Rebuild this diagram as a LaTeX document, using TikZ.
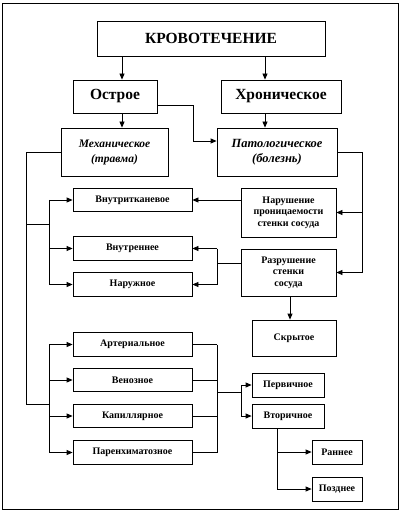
\documentclass[tikz,border=0pt]{standalone}
\usepackage{fontspec}
\setmainfont{Liberation Serif}
\usetikzlibrary{arrows.meta}

\tikzset{
  box/.style={draw, align=center, inner sep=1pt, font=\bfseries\fontsize{10}{11.5}\selectfont},
  sbox/.style={box, minimum width=119pt, minimum height=23.5pt},
  arr/.style={-{Triangle[length=6pt,width=5pt]}},
}

\begin{document}
\begin{tikzpicture}[x=1pt,y=-1pt,line width=0.8pt]
        \useasboundingbox (0,0) rectangle (400,518);
        \draw (2,3) rectangle (398,509);
        % top levels
        \node[box, minimum width=228pt, minimum height=35pt, font=\bfseries\fontsize{15.5}{17}\selectfont] (bleed) at (211,38.5) {КРОВОТЕЧЕНИЕ};
        \node[box, minimum width=84pt, minimum height=33pt, font=\bfseries\fontsize{15.5}{17}\selectfont] (ostr) at (115,96.5) {Острое};
        \node[box, minimum width=120pt, minimum height=33pt, font=\bfseries\fontsize{15.5}{17}\selectfont] (chron) at (281,96.5) {Хроническое};
        \node[box, minimum width=107pt, minimum height=48pt, font=\bfseries\itshape\fontsize{11.5}{15}\selectfont] (mech) at (114.5,152) {Механическое\\(травма)};
        \node[box, minimum width=120pt, minimum height=48pt, font=\bfseries\itshape\fontsize{12.5}{15}\selectfont] (path) at (277,152) {Патологическое\\(болезнь)};
        % kinds
        \foreach \n/\y/\t in {intr/200/Внутритканевое, inner/248.5/Внутреннее, outer/284.5/Наружное,
                              art/344.5/Артериальное, ven/380/Венозное, cap/416/Капиллярное, par/452.5/Паренхиматозное} {
            \node[sbox] (\n) at (132.5,\y) {\t};
        }
        \node[box, minimum width=95pt, minimum height=49pt] (perm) at (288.5,212.5) {Нарушение\\проницаемости\\стенки сосуда};
        \node[box, minimum width=95pt, minimum height=47pt] (destr) at (288.5,272.5) {Разрушение\\стенки\\сосуда};
        \node[box, minimum width=84pt, minimum height=36pt] (hidden) at (294,338) {Скрытое};
        \foreach \n/\y/\t in {prim/385/Первичное, sec/416/Вторичное} {
            \node[box, minimum width=72pt, minimum height=24pt] (\n) at (288,\y) {\t};
        }
        \foreach \n/\y/\t in {early/452/Раннее, late/489/Позднее} {
            \node[box, minimum width=50pt, minimum height=24pt] (\n) at (337,\y) {\t};
        }
        % junctions
        \coordinate (trunk) at (26,404);
        \coordinate (ua) at (49,224);
        \coordinate (lb) at (49,404);
        \coordinate (dj) at (217,263);
        \coordinate (pj) at (362,272.5);
        \coordinate (rj) at (217,392);
        \coordinate (sj) at (241,392);
        \coordinate (vj) at (277,489);
        % connectors
        \draw[arr] ([xshift=7pt]ostr.north |- bleed.south) -- ([xshift=7pt]ostr.north);
        \draw[arr] ([xshift=-16pt]chron.north |- bleed.south) -- ([xshift=-16pt]chron.north);
        \draw[arr] ([xshift=7pt]ostr.south) -- ([xshift=7pt]ostr.south |- mech.north);
        \draw[arr] ([xshift=-16pt]chron.south) -- ([xshift=-16pt]chron.south |- path.north);
        \draw[arr] ([yshift=-8.5pt]ostr.east) -- ++(36,0) |- ([yshift=11pt]path.west);
        \draw (mech.west) -| (trunk) -- (lb);
        \draw (trunk |- ua) -- (ua);
        \draw (ua |- intr.west) -- (ua |- outer.west);
        \draw (lb |- art.west) -- (lb |- par.west);
        \foreach \n in {intr,inner,outer} \draw[arr] (ua |- \n.west) -- (\n.west);
        \foreach \n in {art,ven,cap,par} \draw[arr] (lb |- \n.west) -- (\n.west);
        \draw[arr] (perm.west |- intr.east) -- (intr.east);
        \draw ([yshift=9.5pt]destr.west) -- (dj);
        \draw (dj |- inner.east) -- (dj |- outer.east);
        \foreach \n in {inner,outer} \draw[arr] (dj |- \n.east) -- (\n.east);
        \draw (path.east) -| (pj);
        \draw[arr] (pj |- perm.east) -- (perm.east);
        \draw[arr] (pj) -- (destr.east);
        \draw[arr] ([xshift=1.5pt]destr.south) -- ([xshift=1.5pt]destr.south |- hidden.north);
        \foreach \n in {art,ven,cap,par} \draw (\n.east) -- (rj |- \n.east);
        \draw (rj |- art.east) -- (rj |- par.east);
        \draw (rj) -- (sj);
        \draw (sj |- prim.west) -- (sj |- sec.west);
        \foreach \n in {prim,sec} \draw[arr] (sj |- \n.west) -- (\n.west);
        \draw ([xshift=-11pt]sec.south) -- (vj);
        \foreach \n in {early,late} \draw[arr] (vj |- \n.west) -- (\n.west);
\end{tikzpicture}
\end{document}
